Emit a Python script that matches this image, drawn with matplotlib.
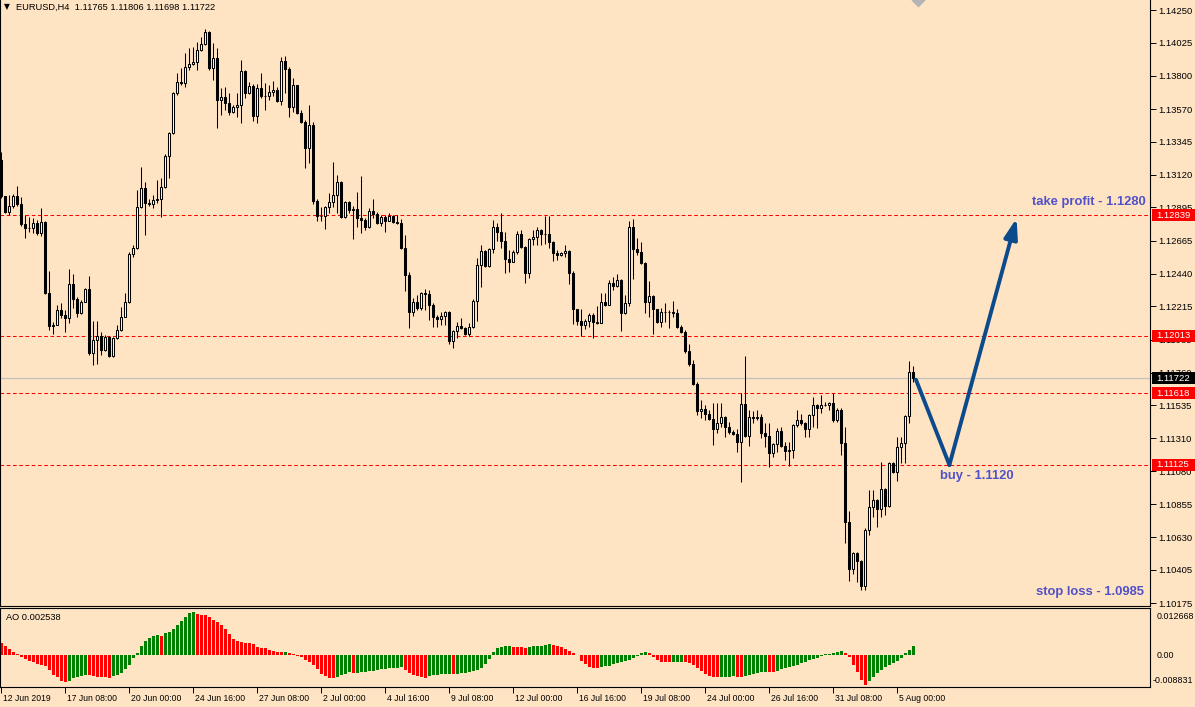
import numpy as np
import matplotlib
matplotlib.use("Agg")
import matplotlib.pyplot as plt
from matplotlib import transforms
from matplotlib.patches import Rectangle

plt.rcParams['font.family'] = ['Liberation Sans', 'DejaVu Sans']

BG = '#FFE4C4'
TXT = '#5050C8'
ARROW = '#0B4A8B'

# ---- EURUSD H4 candles ----
first_open = 1.13221
closes = [1.12974, 1.12863, 1.12905, 1.12974, 1.12919, 1.12782, 1.12754, 1.12754, 1.12788, 1.12719,
          1.12795, 1.12307, 1.12081, 1.12088, 1.12190, 1.12156, 1.12135, 1.12369, 1.12266, 1.12169,
          1.12245, 1.12334, 1.11895, 1.11984, 1.12012, 1.11916, 1.12005, 1.11875, 1.11998, 1.12053,
          1.12142, 1.12245, 1.12576, 1.12616, 1.12898, 1.13028, 1.12925, 1.12919, 1.12946, 1.12953,
          1.13035, 1.13248, 1.13406, 1.13681, 1.13756, 1.13749, 1.13860, 1.13881, 1.13894, 1.13977,
          1.14018, 1.14100, 1.13853, 1.13922, 1.13633, 1.13654, 1.13612, 1.13550, 1.13585, 1.13599,
          1.13832, 1.13681, 1.13729, 1.13523, 1.13715, 1.13661, 1.13661, 1.13688, 1.13702, 1.13626,
          1.13901, 1.13846, 1.13585, 1.13736, 1.13543, 1.13482, 1.13303, 1.13462, 1.12939, 1.12836,
          1.12836, 1.12898, 1.12932, 1.12981, 1.13069, 1.12829, 1.12932, 1.12877, 1.12884, 1.12822,
          1.12809, 1.12761, 1.12870, 1.12850, 1.12788, 1.12829, 1.12802, 1.12836, 1.12795, 1.12788,
          1.12616, 1.12431, 1.12176, 1.12245, 1.12204, 1.12307, 1.12301, 1.12225, 1.12142, 1.12128,
          1.12149, 1.12176, 1.11977, 1.12046, 1.12081, 1.12067, 1.12026, 1.12074, 1.12252, 1.12500,
          1.12596, 1.12493, 1.12609, 1.12761, 1.12726, 1.12664, 1.12541, 1.12520, 1.12589, 1.12713,
          1.12623, 1.12444, 1.12678, 1.12692, 1.12740, 1.12713, 1.12713, 1.12657, 1.12582, 1.12569,
          1.12582, 1.12596, 1.12444, 1.12197, 1.12115, 1.12088, 1.12115, 1.12156, 1.12108, 1.12101,
          1.12245, 1.12225, 1.12375, 1.12355, 1.12396, 1.12169, 1.12238, 1.12761, 1.12609, 1.12589,
          1.12513, 1.12245, 1.12287, 1.12197, 1.12108, 1.12176, 1.12176, 1.12176, 1.12169, 1.12074,
          1.12039, 1.11909, 1.11820, 1.11683, 1.11496, 1.11510, 1.11476, 1.11441, 1.11373, 1.11414,
          1.11455, 1.11387, 1.11352, 1.11339, 1.11283, 1.11545, 1.11325, 1.11455, 1.11448, 1.11455,
          1.11345, 1.11325, 1.11208, 1.11270, 1.11359, 1.11256, 1.11222, 1.11229, 1.11401, 1.11435,
          1.11414, 1.11373, 1.11469, 1.11538, 1.11517, 1.11538, 1.11538, 1.11551, 1.11435, 1.11503,
          1.11276, 1.10734, 1.10411, 1.10521, 1.10466, 1.10294, 1.10679, 1.10837, 1.10885, 1.10823,
          1.10960, 1.10844, 1.11139, 1.11077, 1.11249, 1.11276, 1.11462, 1.11765, 1.11722]
highs = [1.13275, 1.12974, 1.12981, 1.12988, 1.13042, 1.12967, 1.12843, 1.12829, 1.12822, 1.12809,
         1.12891, 1.12802, 1.12458, 1.12108, 1.12225, 1.12238, 1.12190, 1.12472, 1.12438, 1.12280,
         1.12259, 1.12341, 1.12424, 1.12115, 1.12115, 1.12039, 1.12019, 1.12012, 1.12005, 1.12088,
         1.12211, 1.12307, 1.12589, 1.12637, 1.13015, 1.13173, 1.13069, 1.12953, 1.12981, 1.13083,
         1.13097, 1.13262, 1.13413, 1.13688, 1.13818, 1.13853, 1.13956, 1.13990, 1.13997, 1.14031,
         1.14066, 1.14121, 1.14107, 1.14024, 1.13990, 1.13715, 1.13722, 1.13681, 1.13599, 1.13681,
         1.13908, 1.13839, 1.13756, 1.13743, 1.13743, 1.13818, 1.13749, 1.13736, 1.13763, 1.13722,
         1.13929, 1.13936, 1.13860, 1.13784, 1.13708, 1.13564, 1.13496, 1.13599, 1.13482, 1.12953,
         1.12898, 1.12905, 1.12994, 1.13207, 1.13118, 1.13076, 1.12939, 1.12939, 1.12905, 1.13001,
         1.13111, 1.12822, 1.12891, 1.12953, 1.12863, 1.12843, 1.12843, 1.12856, 1.12843, 1.12843,
         1.12815, 1.12706, 1.12451, 1.12273, 1.12294, 1.12314, 1.12334, 1.12328, 1.12238, 1.12156,
         1.12176, 1.12183, 1.12183, 1.12053, 1.12108, 1.12135, 1.12074, 1.12101, 1.12266, 1.12548,
         1.12637, 1.12603, 1.12616, 1.12809, 1.12788, 1.12856, 1.12726, 1.12603, 1.12603, 1.12733,
         1.12740, 1.12630, 1.12685, 1.12740, 1.12761, 1.12747, 1.12836, 1.12836, 1.12664, 1.12603,
         1.12589, 1.12637, 1.12603, 1.12458, 1.12197, 1.12197, 1.12128, 1.12169, 1.12169, 1.12218,
         1.12307, 1.12307, 1.12396, 1.12417, 1.12438, 1.12403, 1.12294, 1.12802, 1.12815, 1.12685,
         1.12657, 1.12520, 1.12389, 1.12294, 1.12190, 1.12204, 1.12238, 1.12190, 1.12252, 1.12197,
         1.12088, 1.12053, 1.11957, 1.11847, 1.11696, 1.11572, 1.11538, 1.11503, 1.11551, 1.11551,
         1.11551, 1.11462, 1.11421, 1.11366, 1.11373, 1.11620, 1.11875, 1.11503, 1.11496, 1.11503,
         1.11476, 1.11414, 1.11414, 1.11276, 1.11380, 1.11387, 1.11283, 1.11283, 1.11408, 1.11503,
         1.11476, 1.11421, 1.11476, 1.11593, 1.11545, 1.11607, 1.11558, 1.11558, 1.11620, 1.11517,
         1.11517, 1.11387, 1.10809, 1.10528, 1.10528, 1.10473, 1.10693, 1.10954, 1.10954, 1.10892,
         1.11146, 1.10967, 1.11146, 1.11146, 1.11318, 1.11318, 1.11469, 1.11840, 1.11806]
lows = [1.12960, 1.12856, 1.12843, 1.12891, 1.12905, 1.12768, 1.12685, 1.12726, 1.12719, 1.12706,
        1.12699, 1.12301, 1.12053, 1.12026, 1.12088, 1.12135, 1.12039, 1.12101, 1.12204, 1.12142,
        1.12163, 1.12245, 1.11882, 1.11813, 1.11820, 1.11882, 1.11909, 1.11868, 1.11868, 1.11991,
        1.12046, 1.12142, 1.12238, 1.12555, 1.12609, 1.12891, 1.12706, 1.12905, 1.12891, 1.12925,
        1.12829, 1.13028, 1.13097, 1.13400, 1.13668, 1.13736, 1.13722, 1.13839, 1.13874, 1.13839,
        1.13970, 1.14011, 1.13839, 1.13770, 1.13441, 1.13530, 1.13564, 1.13530, 1.13543, 1.13516,
        1.13475, 1.13647, 1.13675, 1.13489, 1.13475, 1.13647, 1.13564, 1.13633, 1.13661, 1.13619,
        1.13599, 1.13681, 1.13516, 1.13550, 1.13537, 1.13475, 1.13166, 1.13200, 1.12919, 1.12802,
        1.12802, 1.12747, 1.12856, 1.12898, 1.12856, 1.12822, 1.12822, 1.12856, 1.12678, 1.12761,
        1.12719, 1.12740, 1.12754, 1.12822, 1.12782, 1.12768, 1.12726, 1.12802, 1.12788, 1.12782,
        1.12609, 1.12321, 1.12067, 1.12149, 1.12190, 1.12190, 1.12190, 1.12122, 1.12074, 1.12074,
        1.12088, 1.12088, 1.11957, 1.11929, 1.11998, 1.12060, 1.12019, 1.12012, 1.12067, 1.12115,
        1.12348, 1.12486, 1.12486, 1.12582, 1.12664, 1.12616, 1.12444, 1.12451, 1.12520, 1.12576,
        1.12616, 1.12375, 1.12410, 1.12637, 1.12637, 1.12637, 1.12644, 1.12616, 1.12527, 1.12534,
        1.12562, 1.12555, 1.12369, 1.12095, 1.12088, 1.12012, 1.12060, 1.12074, 1.11998, 1.12095,
        1.12101, 1.12218, 1.12225, 1.12328, 1.12348, 1.12046, 1.12163, 1.12218, 1.12403, 1.12569,
        1.12507, 1.12169, 1.12142, 1.12026, 1.12101, 1.12074, 1.12108, 1.12067, 1.12142, 1.12067,
        1.12032, 1.11895, 1.11806, 1.11676, 1.11469, 1.11448, 1.11435, 1.11435, 1.11263, 1.11345,
        1.11387, 1.11318, 1.11339, 1.11332, 1.11215, 1.11008, 1.11318, 1.11256, 1.11414, 1.11435,
        1.11311, 1.11249, 1.11112, 1.11181, 1.11215, 1.11249, 1.11160, 1.11119, 1.11174, 1.11387,
        1.11401, 1.11318, 1.11318, 1.11387, 1.11380, 1.11482, 1.11531, 1.11503, 1.11421, 1.11421,
        1.11195, 1.10589, 1.10328, 1.10377, 1.10321, 1.10267, 1.10267, 1.10645, 1.10768, 1.10700,
        1.10768, 1.10782, 1.10837, 1.11070, 1.11015, 1.11139, 1.11139, 1.11414, 1.11698]

# Awesome Oscillator histogram
ao = [0.00357, 0.00261, 0.00165, 0.00096, 0.00029, -0.00067, -0.00116, -0.00165, -0.00212, -0.00261,
      -0.00290, -0.00310, -0.00435, -0.00580, -0.00658, -0.00754, -0.00792, -0.00754, -0.00676, -0.00647,
      -0.00618, -0.00580, -0.00600, -0.00609, -0.00647, -0.00658, -0.00661, -0.00667, -0.00618, -0.00600,
      -0.00531, -0.00406, -0.00290, -0.00096, 0.00049, 0.00261, 0.00406, 0.00502, 0.00551, 0.00580,
      0.00571, 0.00658, 0.00687, 0.00774, 0.00890, 0.01015, 0.01111, 0.01227, 0.012668, 0.01198,
      0.01189, 0.01180, 0.01111, 0.01044, 0.00986, 0.00890, 0.00754, 0.00629, 0.00464, 0.00415,
      0.00386, 0.00357, 0.00348, 0.00310, 0.00241, 0.00212, 0.00194, 0.00145, 0.00116, 0.00096,
      0.00087, 0.00096, 0.00049, 0.00020, -0.00020, -0.00049, -0.00145, -0.00212, -0.00290, -0.00406,
      -0.00560, -0.00629, -0.00676, -0.00682, -0.00647, -0.00600, -0.00560, -0.00513, -0.00531, -0.00522,
      -0.00513, -0.00502, -0.00484, -0.00464, -0.00444, -0.00426, -0.00406, -0.00397, -0.00386, -0.00377,
      -0.00368, -0.00435, -0.00531, -0.00580, -0.00629, -0.00658, -0.00667, -0.00629, -0.00600, -0.00580,
      -0.00571, -0.00560, -0.00551, -0.00560, -0.00551, -0.00542, -0.00531, -0.00513, -0.00484, -0.00455,
      -0.00386, -0.00270, -0.00125, 0.00096, 0.00194, 0.00232, 0.00261, 0.00270, 0.00241, 0.00238,
      0.00235, 0.00212, 0.00232, 0.00261, 0.00267, 0.00276, 0.00299, 0.00319, 0.00290, 0.00261,
      0.00223, 0.00183, 0.00116, 0.00049, 0.00009, -0.00174, -0.00270, -0.00348, -0.00386, -0.00392,
      -0.00368, -0.00339, -0.00310, -0.00270, -0.00232, -0.00194, -0.00183, -0.00145, -0.00096, -0.00029,
      0.00049, 0.00078, 0.00049, -0.00049, -0.00145, -0.00194, -0.00212, -0.00218, -0.00200, -0.00197,
      -0.00194, -0.00203, -0.00241, -0.00290, -0.00386, -0.00484, -0.00560, -0.00609, -0.00647, -0.00661,
      -0.00655, -0.00650, -0.00641, -0.00632, -0.00638, -0.00647, -0.00629, -0.00600, -0.00566, -0.00537,
      -0.00508, -0.00487, -0.00493, -0.00499, -0.00464, -0.00421, -0.00377, -0.00348, -0.00319, -0.00290,
      -0.00247, -0.00203, -0.00160, -0.00131, -0.00087, -0.00044, 0.00015, 0.00044, 0.00073, 0.00102,
      0.00104, 0.00049, -0.00049, -0.00290, -0.00493, -0.00725, -0.008831, -0.00774, -0.00658, -0.00531,
      -0.00435, -0.00368, -0.00290, -0.00241, -0.00174, -0.00096, 0.00049, 0.00145, 0.002538]

date_labels = ['12 Jun 2019', '17 Jun 08:00', '20 Jun 00:00', '24 Jun 16:00', '27 Jun 08:00',
               '2 Jul 00:00', '4 Jul 16:00', '9 Jul 08:00', '12 Jul 00:00', '16 Jul 16:00',
               '19 Jul 08:00', '24 Jul 00:00', '26 Jul 16:00', '31 Jul 08:00', '5 Aug 00:00']
price_ticks = [1.14250, 1.14025, 1.13800, 1.13570, 1.13345, 1.13120, 1.12895, 1.12665, 1.12440,
               1.12215, 1.11985, 1.11760, 1.11535, 1.11310, 1.11080, 1.10855, 1.10630, 1.10405, 1.10175]
levels = [1.12839, 1.12013, 1.11618, 1.11125]
bid = 1.11722

# drawn scenario: entry, buy zone, take profit
path_idx = [228.75, 237.1, 253.9]
path_price = [1.11710, 1.11125, 1.12820]
shift_idx = 229.25

closes = np.array(closes)
opens = np.concatenate([[first_open], closes[:-1]])
highs = np.maximum(np.array(highs), np.maximum(opens, closes))
lows = np.minimum(np.array(lows), np.minimum(opens, closes))
ao = np.array(ao)
n = len(closes)
x = np.arange(n)

W, H = 1195, 707
fig = plt.figure(figsize=(W / 100, H / 100), dpi=100, facecolor=BG)


def px_rect(x0, y0, x1, y1):
    return [x0 / W, 1 - y1 / H, (x1 - x0) / W, (y1 - y0) / H]


ax = fig.add_axes(px_rect(0, 0, 1150, 606), facecolor=BG)
ax2 = fig.add_axes(px_rect(0, 608, 1150, 687), facecolor=BG, sharex=ax)

# candles
ax.vlines(x, lows, highs, color='black', lw=0.75, zorder=2)
bull = closes >= opens
ax.bar(x, np.abs(closes - opens), bottom=np.minimum(opens, closes), width=0.5,
       color=np.where(bull, 'white', 'black'), edgecolor='black', linewidth=0.75, zorder=3)

for lv in levels:
    ax.axhline(lv, color='#FF0000', lw=0.75, ls=(0, (3.5, 2.5)), zorder=1)
ax.axhline(bid, color='#C0C0C0', lw=0.9, zorder=1)

# chart shift marker at the top edge
ax.plot([shift_idx], [1.0], marker='D', ms=7, color='#B4B4B4', mec='none',
        transform=transforms.blended_transform_factory(ax.transData, ax.transAxes), clip_on=True)

ax.set_xlim(-0.25, 287.25)
ax.set_ylim(1.10156, 1.14319)
ax.yaxis.tick_right()
ax.set_yticks(price_ticks)
ax.set_yticklabels(['%.5f' % v for v in price_ticks])
ax.tick_params(axis='y', direction='out', length=4, width=0.7, labelsize=6.8, pad=2, colors='black')
ax.tick_params(axis='x', bottom=False, labelbottom=False)
ax.spines['top'].set_visible(False)
for s in ['left', 'right', 'bottom']:
    ax.spines[s].set_linewidth(0.8)

# right-hand price boxes
blend = transforms.blended_transform_factory(fig.transFigure, ax.transData)
box_h = 12 * 0.0000687
for lv, fc in [(l, '#FF0000') for l in levels] + [(bid, 'black')]:
    ax.add_patch(Rectangle((1152 / W, lv - box_h / 2), 43 / W, box_h, transform=blend,
                           facecolor=fc, edgecolor='none', clip_on=False, zorder=6))
    ax.text(1173 / W, lv, '%.5f' % lv, transform=blend, color='white', fontsize=6.8,
            ha='center', va='center', zorder=7, clip_on=False)

# scenario arrow
ax.plot(path_idx[:2], path_price[:2], color=ARROW, lw=2.8, solid_capstyle='round', zorder=5)
ax.annotate('', xy=(path_idx[2], path_price[2]), xytext=(path_idx[1], path_price[1]),
            arrowprops=dict(arrowstyle='-|>,head_length=0.6,head_width=0.2', color=ARROW,
                            lw=2.8, shrinkA=0, shrinkB=0, mutation_scale=20), zorder=5)

ax.text(286.25, 1.12932, 'take profit - 1.1280', ha='right', va='center', fontsize=9.4,
        fontweight='bold', color=TXT)
ax.text(234.75, 1.11050, 'buy - 1.1120', ha='left', va='center', fontsize=9.4,
        fontweight='bold', color=TXT)
ax.text(285.75, 1.10253, 'stop loss - 1.0985', ha='right', va='center', fontsize=9.4,
        fontweight='bold', color=TXT)

# header
fig.text(4 / W, 1 - 7 / H, '\u25bc', fontsize=5.5, family='DejaVu Sans', va='center', ha='left')
fig.text(16 / W, 1 - 7 / H, 'EURUSD,H4  1.11765 1.11806 1.11698 1.11722', fontsize=6.7,
         va='center', ha='left')

# AO window
ao_col = ['#FF0000'] + ['#008000' if ao[i] > ao[i - 1] else '#FF0000' for i in range(1, n)]
ax2.bar(x, ao, width=0.75, color=ao_col, linewidth=0)
ax2.set_ylim(-0.00944, 0.013865)
ax2.set_yticks([])
for s in ax2.spines.values():
    s.set_linewidth(0.8)
ax2.text(6 / 1150, 0.886, 'AO 0.002538', transform=ax2.transAxes, fontsize=6.7, va='center')
blend2 = transforms.blended_transform_factory(fig.transFigure, ax2.transData)
ax2.text(1157 / W, ao.max(), '0.012668', transform=blend2, fontsize=6.4, va='top', clip_on=False)
ax2.text(1157 / W, 0, '0.00', transform=blend2, fontsize=6.4, va='center', clip_on=False)
ax2.text(1153 / W, ao.min(), '-0.008831', transform=blend2, fontsize=6.4, va='bottom', clip_on=False)

tick_pos = np.arange(len(date_labels)) * 16
ax2.set_xticks(tick_pos)
ax2.set_xticklabels(date_labels)
ax2.tick_params(axis='x', direction='out', length=4, width=0.7, labelsize=6.2, pad=1)
for lbl in ax2.get_xticklabels():
    lbl.set_ha('left')
    lbl.set_transform(lbl.get_transform() + transforms.ScaledTranslation(2 / 100, 0, fig.dpi_scale_trans))

fig.savefig('out.png', dpi=100, facecolor=BG)
